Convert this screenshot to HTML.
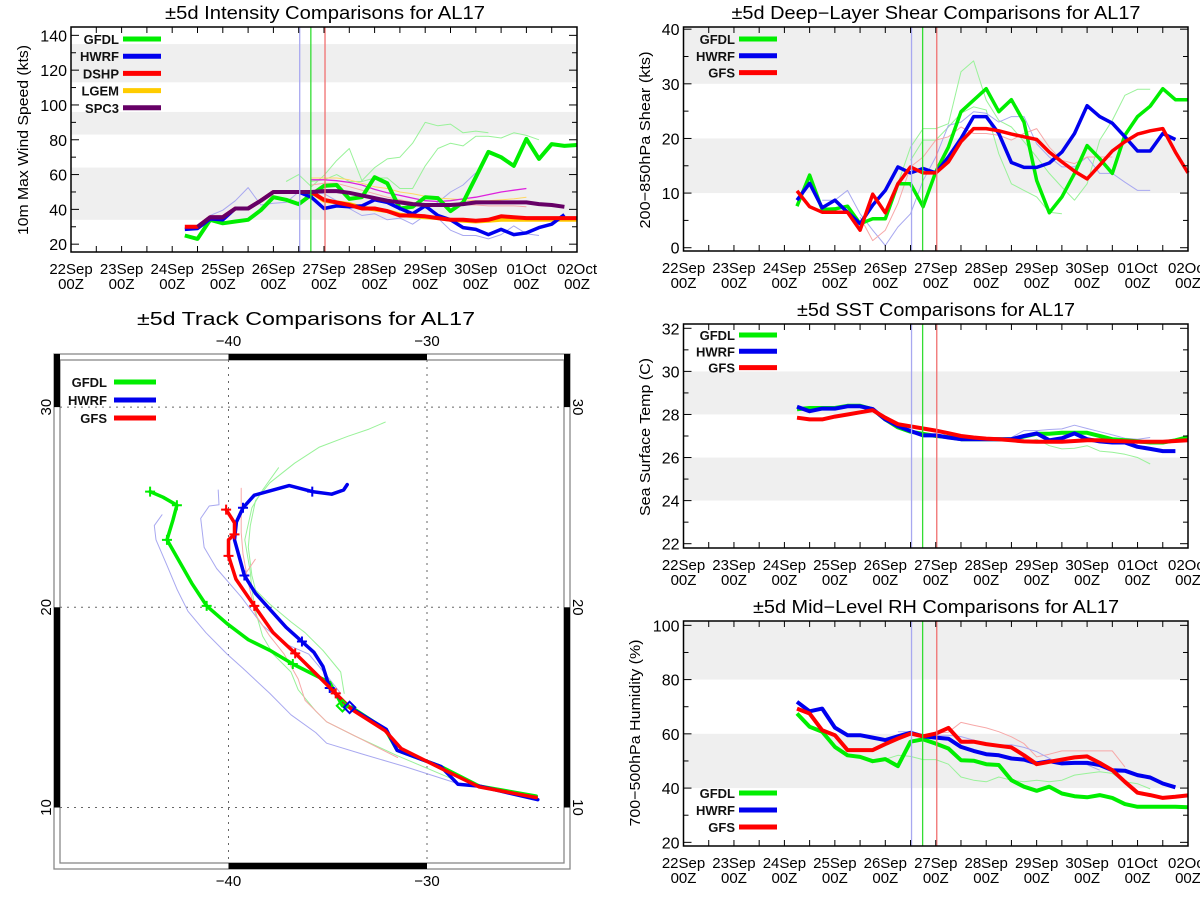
<!DOCTYPE html>
<html><head><meta charset="utf-8"><title>AL17 comparisons</title>
<style>
html,body{margin:0;padding:0;background:#fff;}
svg{display:block;font-family:"Liberation Sans","DejaVu Sans",sans-serif;}
</style></head>
<body>
<svg id="fig" width="1200" height="900" viewBox="0 0 1200 900" xmlns="http://www.w3.org/2000/svg"></svg>
<script>
// ---------- shared time axis ----------
const timeLabels = ["22Sep","23Sep","24Sep","25Sep","26Sep","27Sep","28Sep","29Sep","30Sep","01Oct","02Oct"];
const startDay = 2.25, stepDay = 0.25;
const N = null;
// ---------- intensity (kts) ----------
const intTicks = [20,40,60,80,100,120,140];
const intBands = [[34,64],[83,96],[113,135]];
const intGFDL = [25,23,34,32,33,34,39.5,47,45.5,43,48.5,53.5,54,46,47,58.5,55,40.5,41.5,47,46.5,39,44,58.5,73,70,65,80.5,69,77.5,76.5,77];
const intHWRF = [28.5,29,34.5,34,40.5,40.5,45,50,50,50,47,40.5,42,41.5,42,45.5,44,40.5,37.5,42,36.5,34,29.5,28.5,25.5,28.5,25.5,26.5,29.5,31.5,37];
const intDSHP = [30,30,35.5,35.5,40.5,40.5,45,50,50,50,50,45.5,44,42.5,40.5,40.5,39,36.5,36.5,36,35,34,34,33.5,34,36,35.5,35,35,35,35,35];
const intLGEM = [N,N,N,N,N,N,N,N,N,N,50,45,44,43,41,40,39,37,36,35.5,35,34,33.5,33,33.5,34,34,34,34,34,34,34];
const intSPC3 = [N,30,35.5,35.5,40.5,40.5,45,50,50,50,50,50.5,50.5,49.5,48,46.5,45,44,43,42.5,42.5,42.5,43,44,44,44,44,44,43,42.5,41.5];
const intThinGreenA = [N,N,N,N,N,N,N,N,56,60,53,59.5,68,75,56.5,64,69,70,78,90,88,89,84,85,84];
const intThinGreenB = [N,N,N,N,N,N,N,N,N,N,56,57,60,56,56,58,58,52,52,65,75,78,76.5,82,82,81,84,82.5,80];
const intThinMagenta = [N,N,N,N,N,N,N,N,N,N,57,57,56.5,55.5,54,51.5,49.5,48,46.5,45,44.5,45,46,47,48.5,50,51,52];
const intThinBlueA = [N,N,36.5,39.5,45,52.5,42.5,43.5,44,50,50,49,45,40.5,36.5,37.5,34,35,31.5,36.5,35,28,25,25,23,25.5,30.5,26,25];
const intThinBlueB = [N,N,N,N,N,N,N,N,N,N,N,N,N,N,N,N,N,N,N,40.5,44,50,54,61];
const intThinOrange = [N,N,N,N,N,N,N,N,N,N,58,58,58,57,55,53,52,50,49,47.5,46.5,46,45.5,45,45,45.5,46,47];
const intThinPink = [N,N,N,N,N,N,N,N,N,N,54,55,55,53,51,49,47,45.5,44,43,42.5,42.5,42.5,42.5,42,42,42,41.5];
// ---------- shear (kts) ----------
const shrTicks = [0,10,20,30,40];
const shrBands = [[10,20],[30,40.5]];
const shrGFDL = [7.6,13.3,7,7.1,7.6,4.4,5.3,5.3,11.7,11.7,7.5,13.9,18.4,24.9,27,29.1,24.9,27.1,23,12.3,6.4,9.3,13.6,18.7,16.3,13.6,20.6,24,25.9,29.1,27.1,27.1];
const shrHWRF = [8.7,11.8,7.3,8.7,6.5,4.4,7.8,10.5,14.8,13.7,14.5,13.7,16.6,20,24,24,20.9,15.6,14.7,14.7,15.5,17.5,20.9,26,24,22.8,20.3,17.7,17.7,20.9,19.8];
const shrGFS = [10.4,7.5,6.5,6.5,6.5,3.2,9.8,6.4,11.7,14.8,13.7,13.7,15.7,19.4,21.8,21.8,21.4,20.8,20.3,19.8,17.5,15.7,14,12.6,15.1,17.7,19.4,20.8,21.4,21.8,17.5,13.7];
const shrThinGreenA = [N,N,N,N,N,N,N,6.2,11.7,18.4,21.8,21.8,22.7,32.2,34.2,27,23.3,22.1,19.4,16.6,13.6,11.1,8.7,11.7,19.7,23.3,27.9,29,29];
const shrThinGreenB = [N,N,N,N,N,N,N,N,N,16,19.7,19.7,22.1,24.6,25.8,25.2,17.2,11.7,10.5,9.3,6.5,6.2];
const shrThinBlue = [N,N,8.7,8.7,10.5,6.2,3.2,0.4,3.8,6.2,12.3,16.6,22.4,23,24.9,24.6,23,24,24,19,16.6,14.8,14.8,16.6,13.6,13.6,12,10.5,10.5];
const shrThinRed = [N,N,N,N,N,5.6,1.3,3.2,8.1,14.8,16.6,19.7,20.3,22.1,20.9,20.9,20.6,19.7,20.9,21.8,18.4,16,15.4,16.6,16.6,16.6];
// ---------- SST (C) ----------
const sstTicks = [22,24,26,28,30,32];
const sstBands = [[24,26],[28,30]];
const sstGFDL = [28.24,28.3,28.3,28.3,28.4,28.4,28.24,27.77,27.4,27.2,27.1,27.0,26.95,26.85,26.85,26.85,26.85,26.85,26.97,27.1,27.1,27.15,27.15,27.15,27.0,26.85,26.8,26.75,26.7,26.7,26.8,26.95];
const sstHWRF = [28.36,28.15,28.27,28.27,28.38,28.38,28.25,27.77,27.46,27.23,27.03,27.03,26.93,26.85,26.85,26.85,26.85,26.85,27.0,27.12,26.8,26.9,27.12,26.85,26.75,26.7,26.7,26.5,26.4,26.3,26.3];
const sstGFS = [27.85,27.77,27.77,27.9,28.0,28.1,28.2,27.85,27.55,27.45,27.35,27.25,27.13,27.0,26.93,26.88,26.85,26.8,26.75,26.73,26.73,26.73,26.77,26.8,26.8,26.77,26.76,26.73,26.73,26.73,26.77,26.8];
const sstThinGreen = [N,N,N,N,N,N,N,N,N,N,N,N,N,N,N,N,N,N,26.7,26.85,26.55,26.4,26.43,26.55,26.3,26.25,26.15,26.0,25.7];
const sstThinBlue = [N,N,N,N,N,N,N,N,N,N,N,N,N,N,N,N,N,26.93,27.25,27.25,27.3,27.33,27.5,27.35,27.2,27.05,26.9,26.85,26.93];
// ---------- RH (%) ----------
const rhTicks = [20,40,60,80,100];
const rhBands = [[40,60],[80,101.5]];
const rhGFDL = [67.5,62.6,60.8,55.2,52.1,51.5,49.9,50.7,48.1,57.1,58.0,56.4,54.6,50.3,50.1,48.8,48.5,42.9,40.5,39,40.5,38,37,36.6,37.4,36.4,34.1,33.1,33.1,33.1,33.1,32.9];
const rhHWRF = [71.8,68.3,69.3,62.3,59.5,59.5,58.6,57.7,59.1,60.4,59.1,58.6,58.2,55.2,53.7,52.5,52.1,50.9,50.5,49.1,49.9,49.1,49.3,49.3,48.5,46.6,46.4,44.8,43.9,41.7,40.3];
const rhGFS = [69.3,67.5,61.3,59.5,54,54,54,56.2,58.3,60.1,59.1,60.1,62.2,57.1,57.1,56.2,55.6,55,52.1,48.8,49.7,50.5,51.3,51.7,49.3,46.6,42.3,38.3,37.4,36.4,36.8,37.3];
const rhThinRed = [N,N,N,N,N,N,N,N,N,N,N,60.3,60.6,64.2,63.2,62.2,60.8,58.9,56.4,51.5,52.5,53.7,53.7,53.7,53.7,53.7,47.8];
const rhThinGreen = [N,N,N,N,N,N,N,50.6,52.1,51.7,50.5,50.5,48.8,44.1,42.9,42.3,44.1,42.9,42.3,42.9,42.3,42.9,44.8,45.4,46,45.4,42.3,41.6,39.7];
const rhThinBlue = [N,N,N,N,N,N,N,N,60.8,60.8,59.5,59.5,59.5,59,57.7,56.4,55.8,56,55,53.4,51,48.6,49.2,48.6,46.6];
// ---------- model init times (day offset from 22Sep00Z) ----------
const initDays = [4.52, 4.74, 5.02];
// ---------- tracks (lon, lat) ----------
const trkGFDLLon = [-24.5,-27.37,-29.3,-31.5,-32.1,-33.8,-34.26,-34.9,-36.76,-37.9,-39.0,-40.07,-41.1,-41.85,-43.1,-42.8,-42.6,-43.3,-43.95];
const trkGFDLLat = [10.57,11.07,12.05,12.85,13.9,15.0,15.08,16.24,17.17,17.84,18.38,19.18,20.07,21.2,23.37,24.35,25.1,25.5,25.78];
const trkGFDLMarks = [8,12,14,16,18];
const trkHWRFLon = [-24.42,-27.37,-28.44,-29.3,-31.5,-32.05,-33.9,-34.9,-35.24,-35.7,-36.3,-37.1,-38.64,-39.2,-39.7,-39.6,-39.27,-38.7,-36.94,-35.78,-34.8,-34.2,-34.02];
const trkHWRFLat = [10.39,11.07,11.16,12.05,12.85,13.9,15.0,15.97,17.04,17.75,18.29,19.0,20.7,21.59,23.37,24.26,24.97,25.6,26.08,25.78,25.65,25.86,26.13];
const trkHWRFMarks = [7,10,13,16,19];
const trkGFSLon = [-24.5,-27.37,-29.3,-31.3,-32.1,-33.8,-34.6,-36.64,-37.75,-38.7,-39.62,-40.0,-40.0,-39.7,-39.7,-40.12];
const trkGFSLat = [10.5,11.03,11.96,12.94,13.83,14.9,15.7,17.7,18.73,20.07,21.4,22.57,23.37,23.64,24.22,24.88];
const trkGFSMarks = [6,7,9,11,13,15];
const thinBlue1Lon = [-28.62,-31.13,-33.27,-35.06,-35.6,-36.85,-37.92,-39.27,-40.07,-41.14,-42.04,-42.58,-43.11,-43.65,-43.74,-43.35];
const thinBlue1Lat = [11.25,12.05,12.67,13.21,13.74,14.63,15.7,16.95,17.66,18.73,19.8,20.87,22.12,23.37,24.08,24.62];
const thinBlue2Lon = [-34.35,-35.06,-35.96,-37.2,-38.28,-39.36,-40.6,-41.23,-41.4,-40.97,-40.48,-40.52];
const thinBlue2Lat = [15.7,16.6,17.66,18.2,19.09,20.52,21.94,23.0,24.44,25.06,25.12,25.86];
const thinGreen1Lon = [-28.8,-31.48,-33.63,-35.06,-35.6,-36.49,-36.85,-37.75,-38.28,-38.64,-38.82,-38.9,-39.18,-38.82,-38.28,-37.48];
const thinGreen1Lat = [11.46,12.58,13.57,14.28,14.81,15.88,16.77,17.66,18.56,19.8,20.87,21.76,23.37,24.97,25.86,26.97];
const thinGreen2Lon = [-34.17,-34.35,-35.24,-36.14,-36.85,-37.92,-38.64,-38.82,-39.0,-38.9,-38.64,-37.92,-36.67,-35.42,-33.99,-32.92,-32.1];
const thinGreen2Lat = [15.7,16.77,17.84,18.73,19.27,20.16,20.87,21.59,23.0,24.08,25.33,26.22,27.2,28.0,28.54,28.9,29.25];
const thinRedLon = [-31.48,-33.27,-35.06,-36.14,-36.49,-37.2,-37.92,-38.64,-39.0,-39.27,-39.36,-39.36];
const thinRedLat = [12.5,13.39,14.28,15.35,16.42,17.66,18.56,19.63,21.23,22.66,23.73,25.95];
const thinRed2Lon = [-39.2,-38.65];
const thinRed2Lat = [21.6,22.4];
const lonTicks = [-40,-30];
const latTicks = [10,20,30];

// ---------- helpers ----------
const NS = "http://www.w3.org/2000/svg";
const svg = document.getElementById("fig");
function mk(tag, attrs, parent){
  const e = document.createElementNS(NS, tag);
  for (const k in attrs) e.setAttribute(k, attrs[k]);
  (parent||svg).appendChild(e);
  return e;
}
function txt(s, attrs, parent){ const t = mk("text", attrs, parent); t.textContent = s; return t; }

const GREEN="#00ee00", BLUE="#0000ee", RED="#ff0000", ORANGE="#ffcc00", PURPLE="#660066";
const LGREEN="#99f299", LBLUE="#a8a8f0", LRED="#f7a8a8";

function timePanel(p){
  const g = mk("g", {});
  
  
  const xs = d => p.x0 + (p.x1 - p.x0) * d / 10;
  const ys = v => p.y1 - (p.y1 - p.y0) * (v - p.vmin) / (p.vmax - p.vmin);
  p.bands.forEach(b => {
    const r = mk("rect", {x:p.x0, y:ys(b[1]), width:p.x1-p.x0, height:ys(b[0])-ys(b[1]), fill:"#efefef"}, g);
    
    
  });
  const t = txt(p.title, {x:p.titleX, y:p.y0-8, "text-anchor":"middle", "font-size":"18", textLength:p.titleW, lengthAdjust:"spacingAndGlyphs", fill:"#000"}, g);
  
  
  const yt = txt(p.ytitle, {x:0, y:0, "text-anchor":"middle", "font-size":"15", textLength:p.yTitleW, lengthAdjust:"spacingAndGlyphs", transform:`translate(${p.yTitleX},${p.yTitleY}) rotate(-90)`}, g);
  
  
  p.series.forEach(s => {
    let pts = [];
    const segs = [];
    s.data.forEach((v,i) => {
      if (v === null) { if (pts.length) segs.push(pts); pts = []; return; }
      pts.push(xs(startDay + stepDay*i).toFixed(1) + "," + ys(v).toFixed(1));
    });
    if (pts.length) segs.push(pts);
    segs.forEach(sg => {
      const l = mk("polyline", {points:sg.join(" "), fill:"none", stroke:s.color, "stroke-width":s.w, "stroke-linejoin":"round"}, g);
      
      
    });
  });
  const ic = [LBLUE, "#33dd33", "#f07070"];
  initDays.forEach((d,i) => {
    const l = mk("line", {x1:xs(d), x2:xs(d), y1:p.y0, y2:p.y1, stroke:ic[i], "stroke-width":1.3}, g);
    
    
  });
  const f = mk("rect", {x:p.x0, y:p.y0, width:p.x1-p.x0, height:p.y1-p.y0, fill:"none", stroke:"#000", "stroke-width":1.5}, g);
  
  
  for (let h=0; h<=20; h++){
    const x = xs(h/2);
    mk("line", {x1:x, x2:x, y1:p.y1, y2:p.y1-6, stroke:"#000"}, g);
    mk("line", {x1:x, x2:x, y1:p.y0, y2:p.y0+6, stroke:"#000"}, g);
  }
  timeLabels.forEach((lab,i) => {
    const a = txt(lab, {x:xs(i), y:p.y1+22, "text-anchor":"middle", "font-size":"15"}, g);
    
    
    const b = txt("00Z", {x:xs(i), y:p.y1+37, "text-anchor":"middle", "font-size":"15"}, g);
    
    
  });
  const st = p.ticks[1]-p.ticks[0];
  for (let v=p.ticks[0]; v<=p.ticks[p.ticks.length-1]+1e-6; v+=st/2){
    const y = ys(v); const major = p.ticks.some(q=>Math.abs(q-v)<1e-6);
    mk("line", {x1:p.x0, x2:p.x0+(major?8:5), y1:y, y2:y, stroke:"#000"}, g);
    mk("line", {x1:p.x1, x2:p.x1-(major?8:5), y1:y, y2:y, stroke:"#000"}, g);
  }
  p.ticks.forEach(v => {
    const a = txt(String(v), {x:p.x0-4, y:ys(v)+6, "text-anchor":"end", "font-size":"16"}, g);
    
    
  });
  p.series.filter(s=>s.label).forEach((s,i) => {
    const y = p.legY + i*p.legDy;
    const a = txt(s.label, {x:p.legX, y:y+5, "text-anchor":"end", "font-size":"13", "font-weight":"bold", fill:"#111"}, g);
    
    
    const l = mk("line", {x1:p.legX+4, x2:p.legX+42, y1:y, y2:y, stroke:s.color, "stroke-width":5}, g);
    
    
  });
}

timePanel({name:"intensity-panel", title:"±5d Intensity Comparisons for AL17", ytitle:"10m Max Wind Speed (kts)",
  x0:71, x1:577, y0:27, y1:252, vmin:15.5, vmax:144.8, ticks:intTicks, bands:intBands, yTitleX:28, yTitleY:140, yTitleW:190,
  titleX:325, titleW:320,
  legX:119, legY:39, legDy:17.2,
  series:[
    {data:intThinGreenA, color:LGREEN, w:1},{data:intThinGreenB, color:LGREEN, w:1},
    {data:intThinBlueA, color:LBLUE, w:1},{data:intThinBlueB, color:LBLUE, w:1},
    {data:intThinOrange, color:"#ffd866", w:1},{data:intThinPink, color:LRED, w:1},
    {data:intThinMagenta, color:"#dd22dd", w:1.3},
    {data:intLGEM, color:ORANGE, w:4, label:null},
    {data:intGFDL, color:GREEN, w:4, label:"GFDL"},{data:intHWRF, color:BLUE, w:3.5, label:"HWRF"},
    {data:intDSHP, color:RED, w:4, label:"DSHP"},{data:intLGEM, color:ORANGE, w:0, label:"LGEM"},
    {data:intSPC3, color:PURPLE, w:4, label:"SPC3"}
  ]});
timePanel({name:"shear-panel", title:"±5d Deep−Layer Shear Comparisons for AL17", ytitle:"200−850hPa Shear (kts)",
  x0:683.5, x1:1188, y0:27, y1:251, vmin:-0.6, vmax:40.4, ticks:shrTicks, bands:shrBands, yTitleX:650, yTitleY:140, yTitleW:177,
  titleX:936, titleW:409,
  legX:735, legY:39, legDy:16.8,
  series:[
    {data:shrThinGreenA, color:LGREEN, w:1},{data:shrThinGreenB, color:LGREEN, w:1},
    {data:shrThinBlue, color:LBLUE, w:1},{data:shrThinRed, color:LRED, w:1},
    {data:shrGFDL, color:GREEN, w:3.5, label:"GFDL"},{data:shrHWRF, color:BLUE, w:3.5, label:"HWRF"},
    {data:shrGFS, color:RED, w:3.5, label:"GFS"}
  ]});
timePanel({name:"sst-panel", title:"±5d SST Comparisons for AL17", ytitle:"Sea Surface Temp (C)",
  x0:683.5, x1:1188, y0:324, y1:548, vmin:21.8, vmax:32.2, ticks:sstTicks, bands:sstBands, yTitleX:650, yTitleY:437, yTitleW:158,
  titleX:936, titleW:278,
  legX:735, legY:335, legDy:16.3,
  series:[
    {data:sstThinGreen, color:LGREEN, w:1},{data:sstThinBlue, color:LBLUE, w:1},
    {data:sstGFDL, color:GREEN, w:4, label:"GFDL"},{data:sstHWRF, color:BLUE, w:4, label:"HWRF"},
    {data:sstGFS, color:RED, w:4, label:"GFS"}
  ]});
timePanel({name:"rh-panel", title:"±5d Mid−Level RH Comparisons for AL17", ytitle:"700−500hPa Humidity (%)",
  x0:683.5, x1:1188, y0:621, y1:846, vmin:18.65, vmax:101.6, ticks:rhTicks, bands:rhBands, yTitleX:640, yTitleY:733, yTitleW:187,
  titleX:936, titleW:366,
  legX:735, legY:793, legDy:17,
  series:[
    {data:rhThinRed, color:LRED, w:1},{data:rhThinGreen, color:LGREEN, w:1},{data:rhThinBlue, color:LBLUE, w:1},
    {data:rhGFDL, color:GREEN, w:4, label:"GFDL"},{data:rhHWRF, color:BLUE, w:4, label:"HWRF"},
    {data:rhGFS, color:RED, w:4, label:"GFS"}
  ]});

// ---------- track map ----------
(function(){
  const g = mk("g", {});
  
  
  const X0=60, X1=564, Y0=360, Y1=863;
  const lx = lon => 228.5 + (lon + 40) * 19.85;
  const ly = lat => 807.5 - (lat - 10) * 20.02;
  const t = txt("±5d Track Comparisons for AL17", {x:306, y:325, "text-anchor":"middle", "font-size":"18", textLength:338, lengthAdjust:"spacingAndGlyphs"}, g);
  
  
  const of = mk("rect", {x:54, y:354, width:516, height:515, fill:"none", stroke:"#888", "stroke-width":1.3}, g);
  
  
  const inf = mk("rect", {x:X0, y:Y0, width:X1-X0, height:Y1-Y0, fill:"none", stroke:"#888", "stroke-width":1.3}, g);
  
  
  [[lx(-40),354,lx(-30)-lx(-40),6],[lx(-40),Y1,lx(-30)-lx(-40),6],
   [54,354,6,ly(30)-354],[X1,354,6,ly(30)-354],
   [54,ly(20),6,ly(10)-ly(20)],[X1,ly(20),6,ly(10)-ly(20)]].forEach(r=>{
    const b = mk("rect", {x:r[0], y:r[1], width:r[2], height:r[3], fill:"#000"}, g);
    
    
  });
  lonTicks.forEach(lo => {
    const l = mk("line", {x1:lx(lo), x2:lx(lo), y1:Y0, y2:Y1, stroke:"#666", "stroke-dasharray":"2,5"}, g);
    
    
    [346, 886].forEach(y => {
      const a = txt("−" + Math.abs(lo), {x:lx(lo), y:y, "text-anchor":"middle", "font-size":"15"}, g);
      
      
    });
  });
  latTicks.forEach(la => {
    const l = mk("line", {x1:X0, x2:X1, y1:ly(la), y2:ly(la), stroke:"#666", "stroke-dasharray":"2,5"}, g);
    
    
    const a = txt(String(la), {x:0, y:0, "text-anchor":"middle", "font-size":"15", transform:`translate(51,${ly(la)}) rotate(-90)`}, g);
    
    
    const b = txt(String(la), {x:0, y:0, "text-anchor":"middle", "font-size":"15", transform:`translate(573,${ly(la)}) rotate(90)`}, g);
    
    
  });
  function trk(lons, lats, color, w, marks, name){
    const pts = lons.map((lo,i)=>lx(lo).toFixed(1)+","+ly(lats[i]).toFixed(1)).join(" ");
    const l = mk("polyline", {points:pts, fill:"none", stroke:color, "stroke-width":w, "stroke-linejoin":"round", "stroke-linecap":"round"}, g);
    
    
    (marks||[]).forEach(i => {
      const x = lx(lons[i]), y = ly(lats[i]);
      const m = mk("path", {d:`M${x-5},${y}H${x+5}M${x},${y-5}V${y+5}`, stroke:color, "stroke-width":2}, g);
      
      
    });
  }
  trk(thinBlue1Lon, thinBlue1Lat, LBLUE, 1, null, 'ensemble-track');
  trk(thinBlue2Lon, thinBlue2Lat, LBLUE, 1, null, 'ensemble-track');
  trk(thinGreen1Lon, thinGreen1Lat, LGREEN, 1, null, 'ensemble-track');
  trk(thinGreen2Lon, thinGreen2Lat, LGREEN, 1, null, 'ensemble-track');
  trk(thinRedLon, thinRedLat, LRED, 1, null, 'ensemble-track');
  trk(thinRed2Lon, thinRed2Lat, LRED, 1, null, 'ensemble-track');
  trk(trkGFDLLon, trkGFDLLat, GREEN, 3.5, trkGFDLMarks, 'track-gfdl');
  trk(trkHWRFLon, trkHWRFLat, BLUE, 3.5, trkHWRFMarks, 'track-hwrf');
  trk(trkGFSLon, trkGFSLat, RED, 3.5, trkGFSMarks, 'track-gfs');
  [[trkGFDLLon[6],trkGFDLLat[6],GREEN],[trkHWRFLon[6],trkHWRFLat[6],BLUE]].forEach(b=>{
    const r = mk("rect", {x:lx(b[0])-4, y:ly(b[1])-4, width:8, height:8, fill:"none", stroke:b[2], "stroke-width":2, transform:`rotate(45 ${lx(b[0])} ${ly(b[1])})`}, g);
    
    
  });
  [["GFDL",GREEN],["HWRF",BLUE],["GFS",RED]].forEach((e,i)=>{
    const y = 382 + i*18;
    const a = txt(e[0], {x:107, y:y+5, "text-anchor":"end", "font-size":"13", "font-weight":"bold", fill:"#111"}, g);
    
    
    const l = mk("line", {x1:114, x2:156, y1:y, y2:y, stroke:e[1], "stroke-width":5}, g);
    
    
  });
})();
</script>
</body></html>
